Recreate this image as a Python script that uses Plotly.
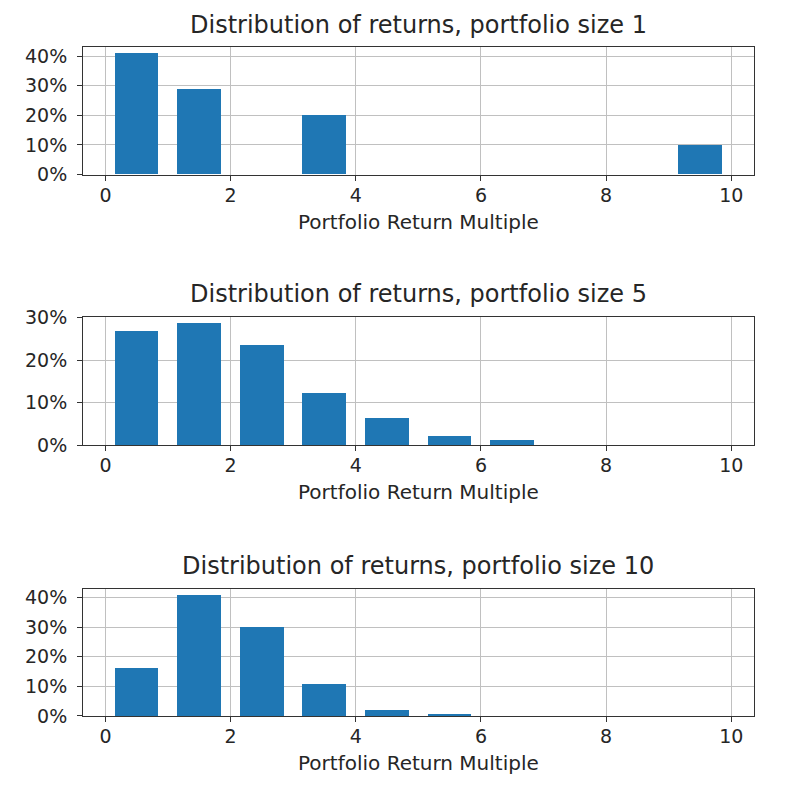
import plotly.graph_objects as go

# bins of the return multiple (0-1, 1-2, ... 9-10), bar drawn at bin centre
bin_centers = [0.5, 1.5, 2.5, 3.5, 4.5, 5.5, 6.5, 7.5, 8.5, 9.5]

# share of outcomes per bin
size1 = [0.410, 0.290, 0.0, 0.200, 0.0, 0.0, 0.0, 0.0, 0.0, 0.100]
size5 = [0.269, 0.287, 0.235, 0.123, 0.063, 0.020, 0.0105, 0.0, 0.0, 0.0]
size10 = [0.161, 0.408, 0.299, 0.108, 0.020, 0.008, 0.0, 0.0, 0.0, 0.0]

titles = ['Distribution of returns, portfolio size 1',
          'Distribution of returns, portfolio size 5',
          'Distribution of returns, portfolio size 10']
x_label = 'Portfolio Return Multiple'
x_ticks = [0, 2, 4, 6, 8, 10]
y_ticks = [[0, 0.1, 0.2, 0.3, 0.4], [0, 0.1, 0.2, 0.3], [0, 0.1, 0.2, 0.3, 0.4]]

blue = '#1f77b4'
grid = '#c0c0c0'
frame = '#333333'
txt = '#262626'
font = 'DejaVu Sans'

W, H = 786, 788


# page offset / squeeze seen in the screenshot, undo it
def py(y):
    return (y - 16.4) / 0.9765


def px(x):
    return x - 7.5


# plot boxes (top, bottom), title and x-label centres, in reference pixels
boxes = [(44.7, 172.7), (316.0, 444.5), (589.0, 716.5)]
title_y = [21.0, 292.5, 565.5]
label_y = [220.0, 491.8, 763.8]
x_dom = [px(82.7) / W, px(753.3) / W]
x_mid = (x_dom[0] + x_dom[1]) / 2

fig = go.Figure()
for i, vals in enumerate([size1, size5, size10]):
    n = '' if i == 0 else str(i + 1)
    fig.add_trace(go.Bar(x=bin_centers, y=vals, width=0.7, marker_color=blue,
                         marker_line_width=0, xaxis='x' + n, yaxis='y' + n,
                         showlegend=False))
    top, bot = boxes[i]
    y_dom = [1 - py(bot) / H, 1 - py(top) / H]
    fig.update_layout(**{
        'xaxis' + n: dict(domain=x_dom, anchor='y' + n, range=[-0.356, 10.36],
                          tickvals=x_ticks, ticks='outside', ticklen=5, tickwidth=1.2,
                          tickcolor=frame, showline=True, mirror=True, linecolor=frame,
                          linewidth=1.3, showgrid=True, gridcolor=grid, gridwidth=1.2,
                          zeroline=False, ticklabelstandoff=-2,
                          tickfont=dict(family=font, size=19, color=txt)),
        'yaxis' + n: dict(domain=y_dom, anchor='x' + n, range=[0, max(vals) * 1.05],
                          tickvals=y_ticks[i], tickformat='.0%', ticks='outside',
                          ticklen=5, tickwidth=1.2, tickcolor=frame, showline=True,
                          mirror=True, linecolor=frame, linewidth=1.3, showgrid=True,
                          gridcolor=grid, gridwidth=1.2, zeroline=False,
                          ticklabelstandoff=6,
                          tickfont=dict(family=font, size=19, color=txt)),
    })
    fig.add_annotation(text=titles[i], xref='paper', yref='paper',
                       x=x_mid, y=1 - max(py(title_y[i]), 6.5) / H,
                       xanchor='center', yanchor='middle', showarrow=False,
                       font=dict(family=font, size=24, color=txt))
    fig.add_annotation(text=x_label, xref='paper', yref='paper',
                       x=x_mid, y=1 - py(label_y[i]) / H,
                       xanchor='center', yanchor='middle', showarrow=False,
                       font=dict(family=font, size=20, color=txt))

fig.update_layout(width=W, height=H, margin=dict(l=0, r=0, t=0, b=0),
                  plot_bgcolor='white', paper_bgcolor='white', bargap=0)
fig.write_html("out.html")
